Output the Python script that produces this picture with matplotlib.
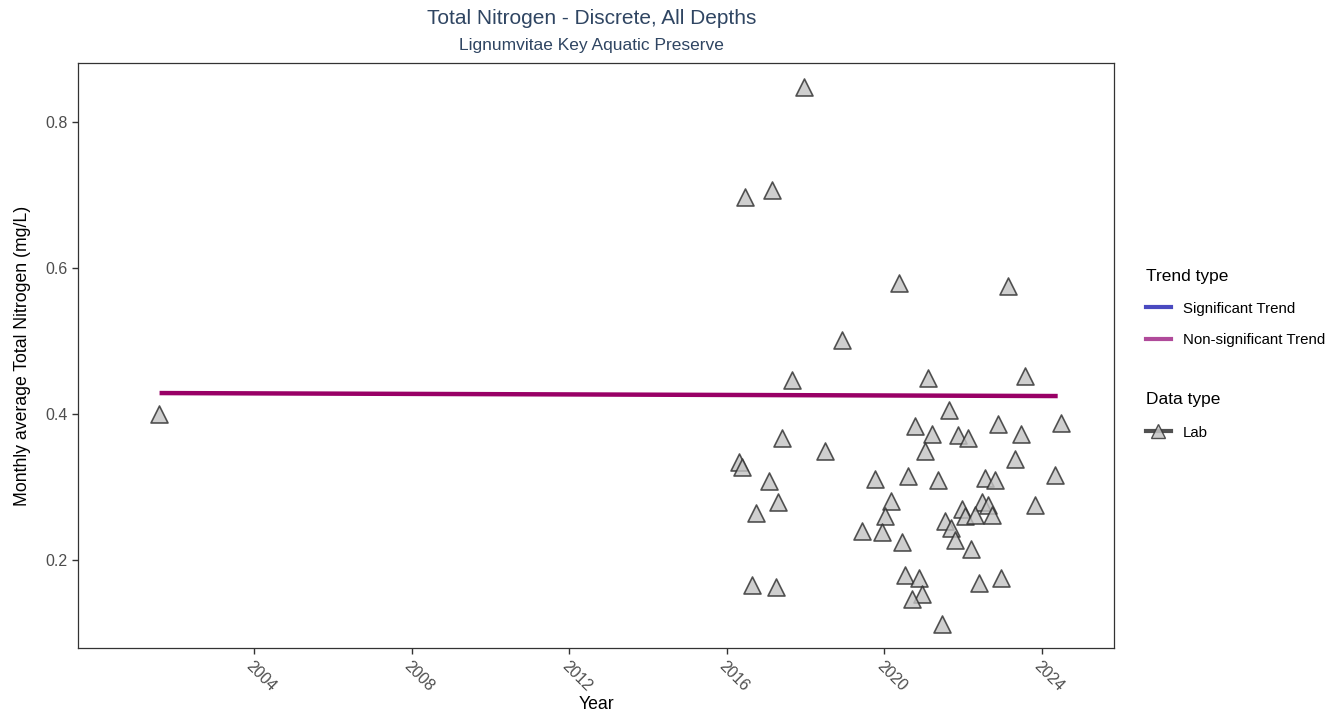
import matplotlib.pyplot as plt
from matplotlib.lines import Line2D

plt.rcParams['font.family'] = ['Liberation Sans', 'DejaVu Sans']

# decimal years and monthly average TN (mg/L)
years = [2001.59, 2017.97, 2016.47, 2017.15, 2018.92, 2020.36, 2023.14,
         2017.66, 2021.12, 2023.56, 2021.63, 2020.77, 2021.20, 2021.88,
         2022.13, 2022.89, 2023.48, 2024.49, 2017.40, 2018.49, 2021.04,
         2023.31, 2016.30, 2016.39, 2017.06, 2019.77, 2020.61, 2021.37,
         2022.55, 2022.82, 2024.32, 2017.31, 2016.73, 2020.18, 2020.02,
         2019.42, 2019.93, 2020.44, 2021.97, 2022.04, 2022.47, 2022.64,
         2022.30, 2022.72, 2021.53, 2021.70, 2021.79, 2022.21, 2023.82,
         2016.64, 2017.24, 2020.53, 2020.87, 2020.96, 2020.69, 2022.39,
         2022.97, 2021.46]
tn = [0.400, 0.848, 0.698, 0.707, 0.501, 0.580, 0.576,
      0.447, 0.450, 0.452, 0.406, 0.384, 0.373, 0.372,
      0.367, 0.386, 0.373, 0.388, 0.367, 0.350, 0.350,
      0.339, 0.335, 0.328, 0.308, 0.311, 0.315, 0.310,
      0.312, 0.310, 0.316, 0.279, 0.264, 0.281, 0.260,
      0.240, 0.239, 0.225, 0.270, 0.261, 0.280, 0.276,
      0.262, 0.262, 0.254, 0.244, 0.228, 0.215, 0.275,
      0.166, 0.163, 0.179, 0.175, 0.154, 0.146, 0.169,
      0.176, 0.113]

# trend line end points
trend_x = [2001.6, 2024.4]
trend_y = [0.4288, 0.4247]

fig = plt.figure(figsize=(13.43, 7.25), dpi=100)
ax = fig.add_axes([0.0581, 0.1062, 0.7714, 0.8069])

ax.plot(trend_x, trend_y, color='#990066', lw=3.2, solid_capstyle='butt', zorder=2)
ax.scatter(years, tn, marker='^', s=150, facecolor='#c4c4c4', edgecolor='#2b2b2b',
           linewidths=1.2, alpha=0.8, zorder=3)

ax.set_xlim(1999.53, 2025.83)
ax.set_ylim(0.0795, 0.881)
ax.set_xticks([2004, 2008, 2012, 2016, 2020, 2024])
ax.set_yticks([0.2, 0.4, 0.6, 0.8])
ax.set_yticklabels(['0.2', '0.4', '0.6', '0.8'])
for lab in ax.get_xticklabels():
    lab.set_rotation(-45)
    lab.set_ha('left')
    lab.set_va('top')
    lab.set_rotation_mode('anchor')
ax.tick_params(axis='both', labelsize=11.5, labelcolor='#4d4d4d', color='#333333',
               length=4, width=1)
for sp in ax.spines.values():
    sp.set_color('#333333')
    sp.set_linewidth(0.9)

ax.set_xlabel('Year', fontsize=12.7, labelpad=1)
ax.set_ylabel('Monthly average Total Nitrogen (mg/L)', fontsize=12.7, labelpad=10)

fig.text(0.4405, 0.967, 'Total Nitrogen - Discrete, All Depths', ha='center',
         fontsize=15, color='#2f4562')
fig.text(0.4405, 0.931, 'Lignumvitae Key Aquatic Preserve', ha='center',
         fontsize=12.5, color='#2f4562')

trend_handles = [Line2D([], [], color='#4a4ac0', lw=3),
                 Line2D([], [], color='#b04a9a', lw=3)]
leg1 = fig.legend(trend_handles, ['Significant Trend', 'Non-significant Trend'],
                  title='Trend type', loc='upper left', bbox_to_anchor=(0.843, 0.647),
                  frameon=False, fontsize=10.8, title_fontsize=12.5, handlelength=1.7,
                  handletextpad=0.8, alignment='left', labelspacing=1.15)
lab_handle = Line2D([], [], color='#333333', alpha=0.85, lw=3, marker='^', markersize=10,
                    markerfacecolor='#c4c4c4', markeredgecolor='#333333')
leg2 = fig.legend([lab_handle], ['Lab'], title='Data type', loc='upper left',
                  bbox_to_anchor=(0.843, 0.478), frameon=False, fontsize=10.8,
                  title_fontsize=12.5, handlelength=1.7, handletextpad=0.8,
                  alignment='left', labelspacing=1.25)

fig.savefig('out.png', dpi=100)
